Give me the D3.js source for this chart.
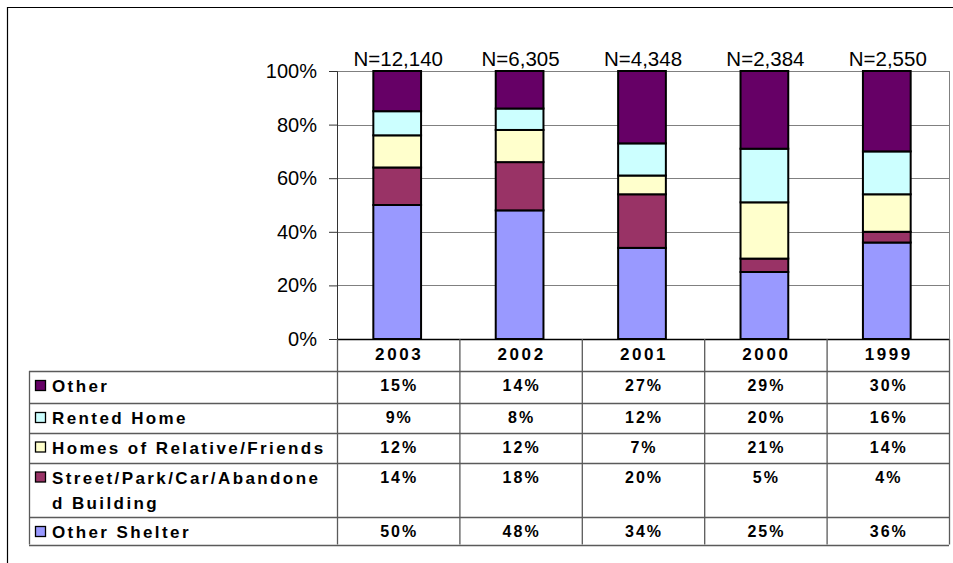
<!DOCTYPE html>
<html>
<head>
<meta charset="utf-8">
<script src="https://cdn.jsdelivr.net/npm/d3@7"></script>
<style>
  body { margin: 0; background: #fff; }
  text { font-family: "Liberation Sans", Arial, sans-serif; }
  .cell { font-weight: bold; letter-spacing: 2.6px; }
</style>
</head>
<body>
<svg id="chart" width="953" height="563"></svg>
<script>
/*********************************************
    * Living situation by year
*********************************************/

var years = ["2003", "2002", "2001", "2000", "1999"];
var nLabels = ["N=12,140", "N=6,305", "N=4,348", "N=2,384", "N=2,550"];

// series, bottom of the stack first
var seriesNames = ["Other Shelter", "Street/Park/Car/Abandoned Building", "Homes of Relative/Friends", "Rented Home", "Other"];
var otherShelter = [50, 48, 34, 25, 36];
var street = [14, 18, 20, 5, 4];
var homes = [12, 12, 7, 21, 14];
var rented = [9, 8, 12, 20, 16];
var other = [15, 14, 27, 29, 30];
var yTicks = [0, 20, 40, 60, 80, 100];

var colors = ["#9999ff", "#993366", "#ffffcc", "#ccffff", "#660066"];

// build rows for the stack
var seriesValues = [otherShelter, street, homes, rented, other];
var rows = years.map(function(y, i) {
    var r = {year: y};
    seriesNames.forEach(function(s, j) { r[s] = seriesValues[j][i]; });
    return r;
});

var svg = d3.select("#chart"),
    margin = {top: 71, left: 337, right: 4},
    plotW = 949 - margin.left,
    plotH = 339 - margin.top;

// outer frame
svg.append("path")
    .attr("d", "M7.5,563 V7.5 H953")
    .attr("fill", "none")
    .attr("stroke", "#000")
    .attr("stroke-width", 1.2);

var g = svg.append("g").attr("transform", "translate(" + margin.left + "," + margin.top + ")");

var x = d3.scaleBand().domain(years).range([0, plotW]).padding(0);
var y = d3.scaleLinear().domain([0, 100]).range([plotH, 0]);
var barW = x.bandwidth() * 0.39;

// gridlines + plot border
g.selectAll(".grid")
    .data(yTicks.filter(function(d) { return d > 0; }))
    .enter().append("line")
    .attr("x1", 0).attr("x2", plotW)
    .attr("y1", function(d) { return Math.round(y(d)) + 0.5; })
    .attr("y2", function(d) { return Math.round(y(d)) + 0.5; })
    .attr("stroke", "#808080");
g.append("line")
    .attr("x1", plotW + 0.5).attr("x2", plotW + 0.5)
    .attr("y1", 0).attr("y2", plotH)
    .attr("stroke", "#808080");

// y axis
var yAxis = g.append("g")
    .call(d3.axisLeft(y).tickValues(yTicks).tickSize(8).tickPadding(12)
        .tickFormat(function(d) { return d + "%"; }));
yAxis.select(".domain").attr("stroke", "#333");
yAxis.selectAll(".tick line").attr("stroke", "#333");
yAxis.selectAll("text").attr("font-size", 20).attr("fill", "#000")
    .style("font-family", "'Liberation Sans', Arial, sans-serif");

// stacked bars
var stack = d3.stack().keys(seriesNames)(rows);

g.selectAll(".layer")
    .data(stack)
    .enter().append("g")
    .attr("fill", function(d, i) { return colors[i]; })
    .selectAll("rect")
    .data(function(d) { return d; })
    .enter().append("rect")
    .attr("x", function(d) { return x(d.data.year) + (x.bandwidth() - barW) / 2 - 1; })
    .attr("y", function(d) { return y(d[1]); })
    .attr("width", barW)
    .attr("height", function(d) { return y(d[0]) - y(d[1]); })
    .attr("stroke", "#000")
    .attr("stroke-width", 2);

// N labels
g.selectAll(".nlab")
    .data(nLabels)
    .enter().append("text")
    .attr("x", function(d, i) { return x(years[i]) + x.bandwidth() / 2; })
    .attr("y", -5)
    .attr("text-anchor", "middle")
    .attr("font-size", 20.5)
    .text(function(d) { return d; });

// bottom axis line
g.append("line")
    .attr("x1", 0).attr("x2", plotW)
    .attr("y1", plotH + 0.5).attr("y2", plotH + 0.5)
    .attr("stroke", "#000").attr("stroke-width", 1.5);

/*********** data table ***********/
var tableLeft = 29, tableRight = 949;
var headTop = 339, headH = 32;
var rowH = [32, 29.5, 30, 54.5, 27.5];
var tableRows = [
    {name: ["Other"], vals: other, color: colors[4]},
    {name: ["Rented Home"], vals: rented, color: colors[3]},
    {name: ["Homes of Relative/Friends"], vals: homes, color: colors[2]},
    {name: ["Street/Park/Car/Abandone", "d Building"], vals: street, color: colors[1]},
    {name: ["Other Shelter"], vals: otherShelter, color: colors[0]}
];
var rowTop = [];
var acc = headTop + headH;
rowH.forEach(function(h) { rowTop.push(acc); acc += h; });
var tableBottom = acc;

var tg = svg.append("g");
var lineCol = "#5a5a5a";

// horizontal lines
rowTop.concat([tableBottom]).forEach(function(yy) {
    tg.append("line")
        .attr("x1", tableLeft).attr("x2", tableRight)
        .attr("y1", Math.round(yy) + 0.5).attr("y2", Math.round(yy) + 0.5)
        .attr("stroke", lineCol).attr("stroke-width", 1.3);
});
// vertical lines
tg.append("line")
    .attr("x1", tableLeft + 0.5).attr("x2", tableLeft + 0.5)
    .attr("y1", headTop + headH).attr("y2", tableBottom)
    .attr("stroke", lineCol).attr("stroke-width", 1.3);
years.forEach(function(yr) {
    var xx = margin.left + x(yr);
    tg.append("line")
        .attr("x1", xx + 0.5).attr("x2", xx + 0.5)
        .attr("y1", headTop).attr("y2", tableBottom)
        .attr("stroke", lineCol).attr("stroke-width", 1.3);
});
tg.append("line")
    .attr("x1", tableRight + 0.5).attr("x2", tableRight + 0.5)
    .attr("y1", headTop).attr("y2", tableBottom)
    .attr("stroke", lineCol).attr("stroke-width", 1.3);

// header years
tg.selectAll(".yr")
    .data(years)
    .enter().append("text")
    .attr("class", "cell")
    .attr("x", function(d) { return margin.left + x(d) + x.bandwidth() / 2 + 1; })
    .attr("y", headTop + 21)
    .attr("text-anchor", "middle")
    .attr("font-size", 17)
    .text(function(d) { return d; });

// legend column and values
tableRows.forEach(function(r, i) {
    var top = rowTop[i];
    var base = top + 21;
    tg.append("rect")
        .attr("x", 35.5).attr("y", base - 11.5)
        .attr("width", 10).attr("height", 10)
        .attr("fill", r.color)
        .attr("stroke", "#000").attr("stroke-width", 1.3);
    r.name.forEach(function(line, k) {
        tg.append("text")
            .attr("class", "cell")
            .attr("x", 52)
            .attr("y", base + k * 25)
            .attr("font-size", 17)
            .style("letter-spacing", "2.4px")
            .text(line);
    });
    tg.selectAll(".v" + i)
        .data(r.vals)
        .enter().append("text")
        .attr("class", "cell")
        .attr("x", function(d, j) { return margin.left + x(years[j]) + x.bandwidth() / 2 + 1; })
        .attr("y", base - 1)
        .attr("text-anchor", "middle")
        .attr("font-size", 16)
        .style("letter-spacing", "2px")
        .text(function(d) { return d + "%"; });
});
</script>
</body>
</html>
